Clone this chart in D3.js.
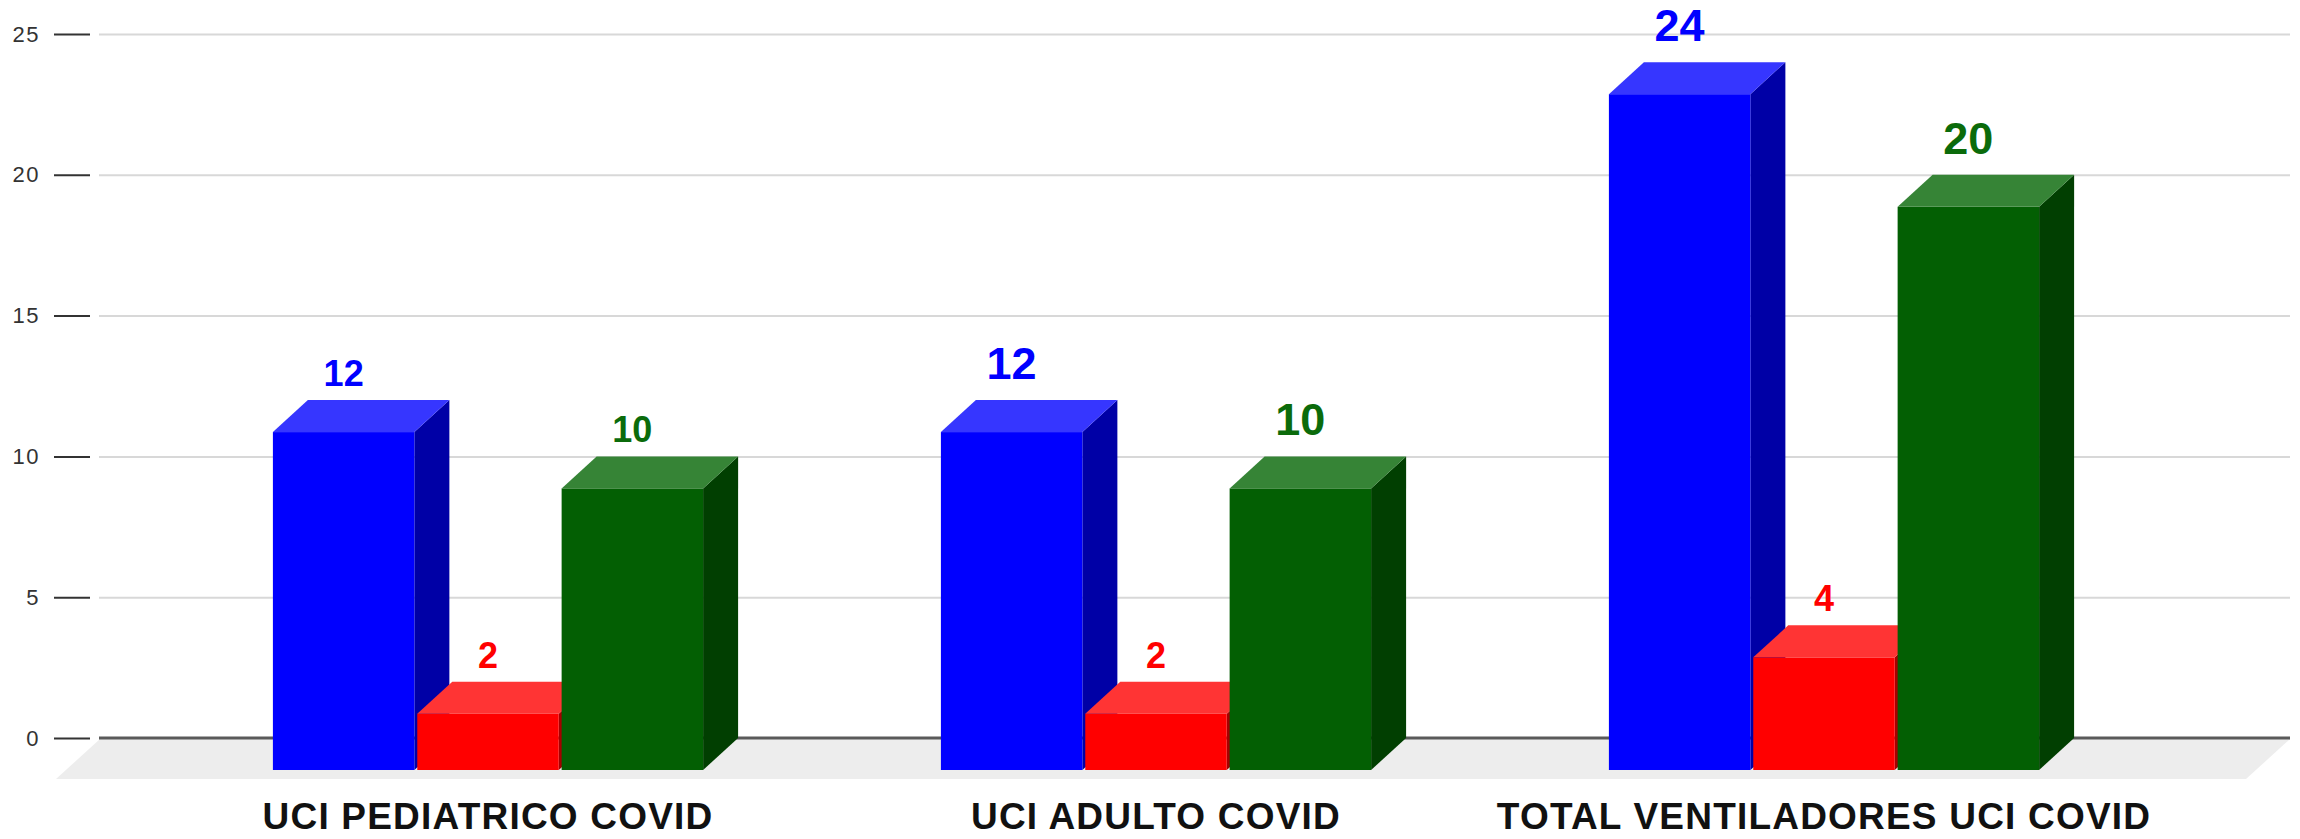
<!DOCTYPE html>
<html>
<head>
<meta charset="utf-8">
<script src="https://cdn.jsdelivr.net/npm/d3@7"></script>
<style>
  html, body { margin: 0; padding: 0; background: #ffffff; }
  svg { display: block; font-family: "Liberation Sans", Arial, sans-serif; }
</style>
</head>
<body>
<svg id="chart"></svg>
<script>
// categories and series values
const categories = ['UCI PEDIATRICO COVID', 'UCI ADULTO COVID', 'TOTAL VENTILADORES UCI COVID'];
const seriesNames = ['Total', 'Ocupados', 'Disponibles'];
const totalValues = [12, 12, 24];
const ocupadosValues = [2, 2, 4];
const disponiblesValues = [10, 10, 20];
const yTicks = [0, 5, 10, 15, 20, 25];

class Bar3DChart {

  constructor(_config) {
    this.config = {
      parentElement: _config.parentElement,
      containerWidth: 2300,
      containerHeight: 839,
      wallLeft: 99,
      wallRight: 2290,
      depthX: 35,
      depthY: 32,
      floorX: 44,
      floorY: 41,
      yRange: [738, 34],
      xRange: [154, 2158]
    };
    // front, top, side shades per series
    this.shades = {
      'Total':       { front: '#0000ff', top: '#3636ff', side: '#0000a6', label: '#0000ff' },
      'Ocupados':    { front: '#ff0000', top: '#ff3434', side: '#a60000', label: '#ff0000' },
      'Disponibles': { front: '#035f03', top: '#368436', side: '#013f01', label: '#0b6b0b' }
    };
    this.initVis();
  }

  initVis() {
    let vis = this;

    vis.svg = d3.select(vis.config.parentElement)
        .attr('width', vis.config.containerWidth)
        .attr('height', vis.config.containerHeight);

    vis.yScale = d3.scaleLinear().domain([0, 25]).range(vis.config.yRange);

    vis.xScale = d3.scaleBand()
        .domain(categories)
        .range(vis.config.xRange)
        .paddingInner(0.356)
        .paddingOuter(0.178);

    vis.xSeries = d3.scaleBand()
        .domain(seriesNames)
        .range([0, vis.xScale.bandwidth()])
        .paddingInner(0.02);
  }

  updateVis() {
    let vis = this;
    const byName = { 'Total': totalValues, 'Ocupados': ocupadosValues, 'Disponibles': disponiblesValues };

    vis.bars = [];
    categories.forEach((c, i) => {
      seriesNames.forEach(s => {
        vis.bars.push({ category: c, catIndex: i, series: s, value: byName[s][i] });
      });
    });

    vis.renderVis();
  }

  renderVis() {
    let vis = this;
    const cfg = vis.config;
    const y0 = vis.yScale(0);

    // grid lines on back wall
    vis.svg.append('g')
        .attr('class', 'grid')
        .attr('transform', `translate(${cfg.wallLeft},0)`)
        .call(d3.axisRight(vis.yScale).tickValues(yTicks).tickSize(cfg.wallRight - cfg.wallLeft).tickFormat(''))
        .call(g => g.select('.domain').remove())
        .call(g => g.selectAll('line').attr('stroke', '#d8d8d8').attr('stroke-width', 2));

    // floor
    vis.svg.append('polygon')
        .attr('points', [
          [cfg.wallLeft + 1, y0 + 1], [cfg.wallRight, y0 + 1],
          [cfg.wallRight - cfg.floorX, y0 + cfg.floorY], [cfg.wallLeft + 1 - cfg.floorX, y0 + cfg.floorY]
        ].join(' '))
        .attr('fill', '#ededed');

    // zero line
    vis.svg.append('line')
        .attr('x1', cfg.wallLeft).attr('x2', cfg.wallRight)
        .attr('y1', y0).attr('y2', y0)
        .attr('stroke', '#5a5a5a')
        .attr('stroke-width', 3);

    // y axis: tick marks + labels
    vis.svg.append('g')
        .attr('class', 'y-axis')
        .attr('transform', 'translate(90,0)')
        .call(d3.axisLeft(vis.yScale).tickValues(yTicks).tickSize(36).tickPadding(14))
        .call(g => g.select('.domain').remove())
        .call(g => g.selectAll('line').attr('stroke', '#333').attr('stroke-width', 2))
        .call(g => g.selectAll('text')
            .attr('fill', '#333')
            .style('font-size', '22px')
            .style('letter-spacing', '1.5px')
            .style('font-family', '"Liberation Sans", Arial, sans-serif'));

    const dx = cfg.depthX, dy = cfg.depthY;
    const frontX = d => vis.xScale(d.category) + vis.xSeries(d.series);
    const w = vis.xSeries.bandwidth();

    const barGroups = vis.svg.selectAll('.bar3d')
        .data(vis.bars)
      .join('g')
        .attr('class', 'bar3d');

    // side face
    barGroups.append('polygon')
        .attr('points', d => {
          const x1 = frontX(d) + w, yt = vis.yScale(d.value) + dy, yb = y0 + dy;
          return [[x1, yt], [x1 + dx, yt - dy], [x1 + dx, yb - dy], [x1, yb]].join(' ');
        })
        .attr('fill', d => vis.shades[d.series].side);

    // front face
    barGroups.append('rect')
        .attr('x', d => frontX(d))
        .attr('y', d => vis.yScale(d.value) + dy)
        .attr('width', w)
        .attr('height', d => y0 - vis.yScale(d.value))
        .attr('fill', d => vis.shades[d.series].front);

    // top face
    barGroups.append('polygon')
        .attr('points', d => {
          const x0 = frontX(d), yt = vis.yScale(d.value) + dy;
          return [[x0, yt], [x0 + dx, yt - dy], [x0 + w + dx, yt - dy], [x0 + w, yt]].join(' ');
        })
        .attr('fill', d => vis.shades[d.series].top);

    // value labels, red ones and the first group are drawn smaller
    const bigLabel = d => d.catIndex > 0 && d.series !== 'Ocupados';
    vis.svg.selectAll('.value-label')
        .data(vis.bars)
      .join('text')
        .attr('class', 'value-label')
        .attr('x', d => frontX(d) + w / 2)
        .attr('y', d => vis.yScale(d.value) - (bigLabel(d) ? 21 : 14))
        .attr('text-anchor', 'middle')
        .attr('fill', d => vis.shades[d.series].label)
        .style('font-weight', 'bold')
        .style('font-size', d => bigLabel(d) ? '45px' : '36px')
        .text(d => d.value);

    // category labels
    vis.svg.selectAll('.cat-label')
        .data(categories)
      .join('text')
        .attr('class', 'cat-label')
        .attr('x', d => vis.xScale(d) + vis.xScale.bandwidth() / 2)
        .attr('y', 829)
        .attr('text-anchor', 'middle')
        .attr('fill', '#111')
        .style('font-weight', 'bold')
        .style('font-size', '37px')
        .style('letter-spacing', '1.2px')
        .text(d => d);
  }
}

const chart = new Bar3DChart({ parentElement: '#chart' });
chart.updateVis();
</script>
</body>
</html>
